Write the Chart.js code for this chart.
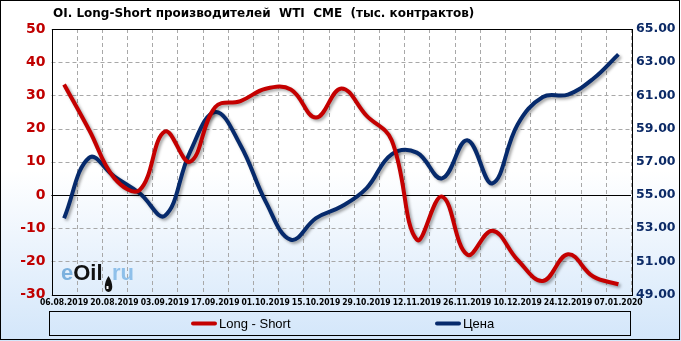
<!DOCTYPE html>
<html>
<head>
<meta charset="utf-8">
<script src="https://cdn.jsdelivr.net/npm/chart.js@4/dist/chart.umd.min.js"></script>
<style>
html,body{margin:0;padding:0;background:#fff;}
#wrap{width:681px;height:341px;position:relative;}
</style>
</head>
<body>
<div id="wrap"><canvas id="c" width="681" height="341"></canvas></div>
<script>
const titleText = 'OI. Long-Short производителей  WTI  CME  (тыс. контрактов)';
const categories = ['06.08.2019','13.08.2019','20.08.2019','27.08.2019','03.09.2019','10.09.2019','17.09.2019','24.09.2019','01.10.2019','08.10.2019','15.10.2019','22.10.2019','29.10.2019','05.11.2019','12.11.2019','19.11.2019','26.11.2019','03.12.2019','10.12.2019','17.12.2019','24.12.2019','31.12.2019','07.01.2020'];
const longShort = [33.3, 19.5, 5, 1.5, 19.1, 10, 26.5, 28.3, 32.0, 31.8, 23.3, 32.1, 23.9, 16.5, -13.5, -0.5, -18, -10.8, -19.6, -25.9, -17.9, -24.6, -26.9];
const price = [53.6, 57.25, 56.1, 55.1, 53.75, 57.6, 60.0, 58.0, 54.6, 52.3, 53.6, 54.3, 55.4, 57.45, 57.55, 56.0, 58.3, 55.7, 59.25, 60.9, 61.05, 62.0, 63.47];
const seriesNames = ['Long - Short', 'Цена'];
const leftTicks = {min: -30, max: 50, step: 10};
const rightTicks = {min: 49, max: 65, step: 2};

const RED = '#c40000';
const BLUE = '#062a6c';

const deco = {
  id: 'deco',
  beforeDraw(chart) {
    const ctx = chart.ctx;
    const g = ctx.createLinearGradient(0, 0, 0, 341);
    g.addColorStop(0, '#ffffff');
    g.addColorStop(0.5, '#ffffff');
    g.addColorStop(1, '#d3e6fa');
    ctx.save();
    ctx.fillStyle = g;
    ctx.fillRect(0, 0, 681, 341);
    ctx.restore();
  },
  beforeDatasetsDraw(chart) {
    const ctx = chart.ctx;
    const a = chart.chartArea;
    const xs = chart.scales.x, ys = chart.scales.y;
    ctx.save();
    // dashed grid
    ctx.strokeStyle = '#a8a8a8';
    ctx.lineWidth = 1;
    ctx.setLineDash([4, 3]);
    ctx.beginPath();
    ys.ticks.forEach(t => {
      const p = Math.round(ys.getPixelForValue(t.value)) + 0.5;
      ctx.moveTo(a.left, p); ctx.lineTo(a.right, p);
    });
    const half = (xs.getPixelForTick(1) - xs.getPixelForTick(0)) / 2;
    for (let i = 0; i < categories.length; i++) {
      const p = Math.round(xs.getPixelForTick(i) + half) + 0.5;
      ctx.moveTo(p, a.top); ctx.lineTo(p, a.bottom);
    }
    ctx.stroke();
    ctx.setLineDash([]);
    // zero line
    const y0 = ys.getPixelForValue(0);
    ctx.strokeStyle = '#000';
    ctx.beginPath();
    ctx.moveTo(a.left, Math.round(y0) + 0.5);
    ctx.lineTo(a.right, Math.round(y0) + 0.5);
    ctx.stroke();
    // watermark
    ctx.textBaseline = 'alphabetic';
    ctx.textAlign = 'left';
    ctx.font = 'bold 22px "Liberation Sans", Arial, sans-serif';
    let x = 61, yb = 280;
    ctx.fillStyle = '#7cb1de';
    ctx.fillText('e', x, yb); x += ctx.measureText('e').width;
    ctx.fillStyle = '#111';
    ctx.fillText('Oil', x, yb);
    // drop
    const dx = 108.5, dy = 287;
    ctx.beginPath();
    ctx.moveTo(dx, dy - 11);
    ctx.bezierCurveTo(dx + 5, dy - 4, dx + 5, dy + 5, dx, dy + 5);
    ctx.bezierCurveTo(dx - 5, dy + 5, dx - 5, dy - 4, dx, dy - 11);
    ctx.fill();
    ctx.fillStyle = '#fff';
    ctx.fillRect(dx - 2, dy - 1, 2, 3);
    ctx.fillStyle = '#8fc0ea';
    ctx.fillText('ru', 112, yb);
    ctx.restore();
  },
  beforeDatasetDraw(chart) {
    const ctx = chart.ctx;
    ctx.save();
    ctx.shadowColor = 'rgba(0,0,0,0.35)';
    ctx.shadowBlur = 3;
    ctx.shadowOffsetX = 2;
    ctx.shadowOffsetY = 2;
  },
  afterDatasetDraw(chart) {
    chart.ctx.restore();
  },
  afterDraw(chart) {
    const ctx = chart.ctx;
    const a = chart.chartArea;
    ctx.save();
    ctx.strokeStyle = '#000';
    ctx.lineWidth = 1;
    ctx.strokeRect(Math.round(a.left) + 0.5, Math.round(a.top) + 0.5, Math.round(a.right - a.left), Math.round(a.bottom - a.top));
    // outer border
    ctx.strokeRect(0.5, 0.5, 679, 339);
    // title
    ctx.fillStyle = '#000';
    ctx.font = 'bold 12px "DejaVu Sans", sans-serif';
    ctx.textBaseline = 'middle';
    ctx.textAlign = 'left';
    ctx.fillText(titleText, 53, 14);
    // legend
    ctx.strokeRect(49.5, 311.5, 581, 24);
    ctx.font = '13px "Liberation Sans", Arial, sans-serif';
    const items = [{x: 191, color: RED, text: seriesNames[0]}, {x: 435, color: BLUE, text: seriesNames[1]}];
    items.forEach(it => {
      ctx.strokeStyle = it.color;
      ctx.lineWidth = 4;
      ctx.lineCap = 'round';
      ctx.beginPath();
      ctx.moveTo(it.x + 2, 323.5);
      ctx.lineTo(it.x + 24, 323.5);
      ctx.stroke();
      ctx.fillStyle = '#000';
      ctx.fillText(it.text, it.x + 28, 324);
    });
    ctx.restore();
  }
};

new Chart(document.getElementById('c'), {
  type: 'line',
  data: {
    labels: categories,
    datasets: [
      {label: seriesNames[0], data: longShort, yAxisID: 'y', borderColor: RED, backgroundColor: RED, borderWidth: 4, pointRadius: 0, tension: 0.4, fill: false},
      {label: seriesNames[1], data: price, yAxisID: 'y1', borderColor: BLUE, backgroundColor: BLUE, borderWidth: 4, pointRadius: 0, tension: 0.4, fill: false}
    ]
  },
  options: {
    responsive: false,
    animation: false,
    devicePixelRatio: 1,
    layout: {padding: {top: 29, bottom: 29.5, left: 0, right: 0}},
    plugins: {legend: {display: false}, title: {display: false}, tooltip: {enabled: false}},
    scales: {
      x: {
        offset: true,
        grid: {display: false, drawTicks: false},
        border: {display: false},
        ticks: {
          autoSkip: false, maxRotation: 0, minRotation: 0, padding: 3, color: '#000',
          font: {family: '"DejaVu Sans Condensed", "DejaVu Sans", sans-serif', size: 8.5, weight: 'bold'},
          callback: function(v, i) { return i % 2 === 0 ? categories[i] : ''; }
        },
        afterFit(s) { s.height = 17; }
      },
      y: {
        position: 'left', min: leftTicks.min, max: leftTicks.max,
        grid: {display: false, drawTicks: false},
        border: {display: false},
        ticks: {stepSize: leftTicks.step, padding: 6, color: '#c00000',
          font: {family: '"DejaVu Sans", sans-serif', size: 14, weight: 'bold'}},
        afterFit(s) { s.width = 51.5; }
      },
      y1: {
        position: 'right', min: rightTicks.min, max: rightTicks.max,
        grid: {display: false, drawTicks: false},
        border: {display: false},
        ticks: {stepSize: rightTicks.step, padding: 5, color: '#0c2a66',
          font: {family: '"DejaVu Sans", sans-serif', size: 12.5, weight: 'bold'},
          callback: v => v.toFixed(2)},
        afterFit(s) { s.width = 50; }
      }
    }
  },
  plugins: [deco]
});
</script>
</body>
</html>
